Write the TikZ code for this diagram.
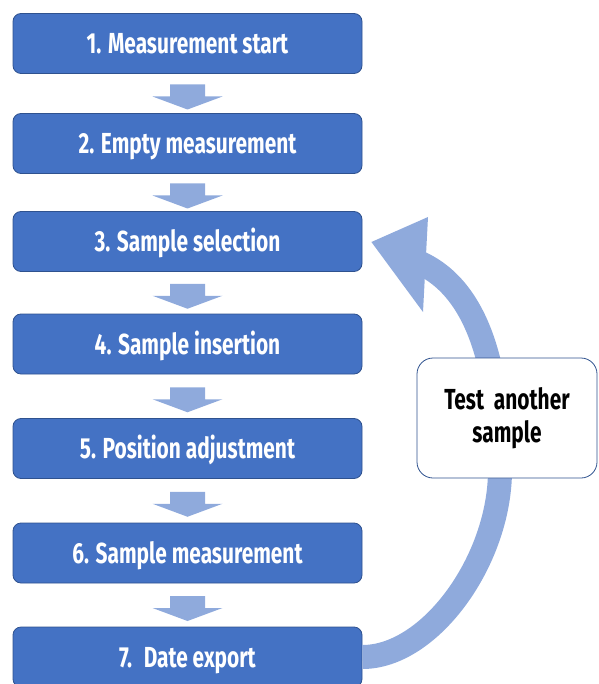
\documentclass[tikz,border=0pt]{standalone}
\usepackage{fontspec}
\setmainfont{Fira Sans}
\newfontfamily\labelfont{Fira Sans}[FakeStretch=0.72]
\usetikzlibrary{calc}
\definecolor{stepfill}{HTML}{4472C4}
\definecolor{stepedge}{HTML}{2F528F}
\definecolor{flowblue}{HTML}{8FAADC}
\begin{document}
\begin{tikzpicture}[x=1pt,y=-1pt,
  stepbox/.style={draw=stepedge, line width=0.8pt, fill=stepfill, rounded corners=8pt,
    minimum width=349pt, minimum height=60pt, inner sep=0pt, text=white,
    font=\labelfont\bfseries\fontsize{29}{34}\selectfont, text height=20pt, text depth=0pt},
  notebox/.style={draw=stepedge, line width=0.8pt, fill=white, rounded corners=16pt,
    minimum width=180pt, minimum height=120pt, inner sep=0pt, align=center, text=black,
    font=\labelfont\bfseries\fontsize{29}{33}\selectfont},
  blockarrow/.style={fill=flowblue},
  loopband/.style={draw=flowblue, line width=24pt}
]
\useasboundingbox (0,0) rectangle (598,684);
\clip (0,0) rectangle (598,684);

% process steps
\node[stepbox] (b1) at (187.5,43.5)  {1. Measurement start};
\node[stepbox] (b2) at (187.5,143.5) {2. Empty measurement};
\node[stepbox] (b3) at (187.5,241.5) {3. Sample selection};
\node[stepbox] (b4) at (187.5,344)   {4. Sample insertion};
\node[stepbox] (b5) at (187.5,448.5) {5. Position adjustment};
\node[stepbox] (b6) at (187.5,553)   {6. Sample measurement};
\node[stepbox] (b7) at (187.5,657)   {7.~ Date export};

% block arrows between consecutive steps
\foreach \a/\b in {b1/b2,b2/b3,b3/b4,b4/b5,b5/b6,b6/b7}{
  \coordinate (m) at ($($(\a.south)!0.5!(\b.north)$)+(0,3)$);
  \fill[blockarrow] ($(m)+(-17.5,-12)$) -- ($(m)+(17.5,-12)$) -- ($(m)+(17.5,0)$)
    -- ($(m)+(35,0)$) -- ($(m)+(0,13)$) -- ($(m)+(-35,0)$) -- ($(m)+(-17.5,0)$) -- cycle;
}

% loop back from the export step to sample selection
\coordinate (looptip) at ($(b3.east)+(9,0.5)$);
\draw[loopband] (b7.east) .. controls +(68,0) and (500,560) .. (500,470)
  .. controls (500,400) and (490,293) .. (418,262);
\fill[blockarrow] (looptip) -- (428,217) -- (423,312) -- cycle;

% note on the loop
\node[notebox] (note) at (507,418) {Test~ another\\sample};
\end{tikzpicture}
\end{document}
